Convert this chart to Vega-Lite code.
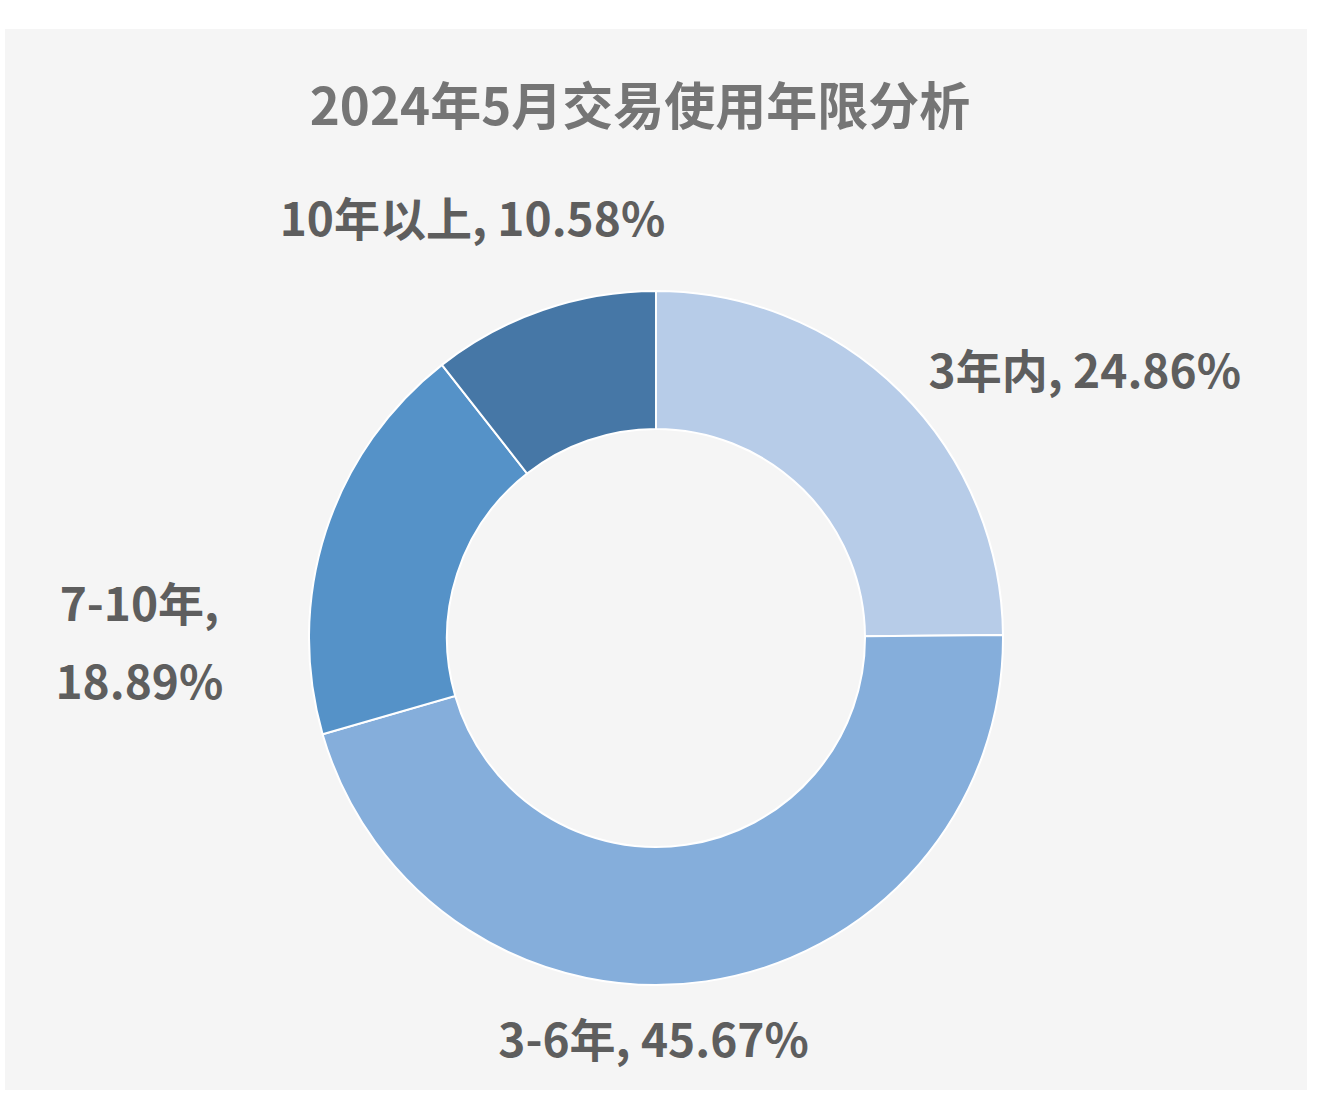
{
  "$schema": "https://vega.github.io/schema/vega-lite/v6.json",
  "background": "white",
  "padding": {"left": 5, "top": 29, "right": 0, "bottom": 0},
  "spacing": 0,
  "bounds": "flush",
  "config": {
    "view": {"fill": "#f5f5f5", "stroke": null},
    "concat": {"spacing": 0},
    "font": "Noto Sans CJK SC"
  },
  "vconcat": [
    {
      "width": 1302,
      "height": 157,
      "view": {"fill": "#f5f5f5", "stroke": null},
      "data": {"values": [{"title": "2024年5月交易使用年限分析"}]},
      "mark": {
        "type": "text",
        "font": "Noto Sans CJK SC",
        "fontSize": 51,
        "fontWeight": "bold",
        "color": "#757575",
        "dx": -16,
        "dy": 2
      },
      "encoding": {"text": {"field": "title", "type": "nominal"}}
    },
    {
      "width": 1302,
      "height": 904,
      "view": {"fill": "#f5f5f5", "stroke": null},
      "data": {
        "values": [
          {"category": "3年内", "pct": 24.86},
          {"category": "3-6年", "pct": 45.67},
          {"category": "7-10年", "pct": 18.89},
          {"category": "10年以上", "pct": 10.58}
        ]
      },
      "transform": [
        {"window": [{"op": "row_number", "as": "rank"}]},
        {
          "calculate": "datum.category + (datum.category === '7-10年' ? ',\\n' : ', ') + format(datum.pct, '.2f') + '%'",
          "as": "label"
        }
      ],
      "encoding": {
        "theta": {"field": "pct", "type": "quantitative", "stack": true},
        "order": {"field": "rank", "type": "quantitative"}
      },
      "layer": [
        {
          "mark": {
            "type": "arc",
            "outerRadius": 347,
            "innerRadius": 209,
            "stroke": "white",
            "strokeWidth": 2
          },
          "encoding": {
            "color": {
              "field": "category",
              "type": "nominal",
              "scale": {
                "domain": ["3年内", "3-6年", "7-10年", "10年以上"],
                "range": ["#b7cce8", "#85aedb", "#5592c8", "#4677a6"]
              },
              "legend": null
            }
          }
        },
        {
          "mark": {"type": "text", "radius": 440, "dx": 119, "dy": 48, "fontSize": 46, "fontWeight": "bold", "color": "#5e5e5e"},
          "encoding": {
            "text": {"condition": {"test": "datum.category === '3年内'", "field": "label"}, "value": ""}
          }
        },
        {
          "mark": {"type": "text", "radius": 440, "dx": -66, "dy": -30, "fontSize": 46, "fontWeight": "bold", "color": "#5e5e5e"},
          "encoding": {
            "text": {"condition": {"test": "datum.category === '3-6年'", "field": "label"}, "value": ""}
          }
        },
        {
          "mark": {"type": "text", "radius": 440, "dx": -98, "dy": 104, "fontSize": 46, "fontWeight": "bold", "color": "#5e5e5e", "lineBreak": "\n", "lineHeight": 78},
          "encoding": {
            "text": {"condition": {"test": "datum.category === '7-10年'", "field": "label"}, "value": ""}
          }
        },
        {
          "mark": {"type": "text", "radius": 440, "dx": -40, "dy": 0, "fontSize": 46, "fontWeight": "bold", "color": "#5e5e5e"},
          "encoding": {
            "text": {"condition": {"test": "datum.category === '10年以上'", "field": "label"}, "value": ""}
          }
        }
      ]
    }
  ]
}
